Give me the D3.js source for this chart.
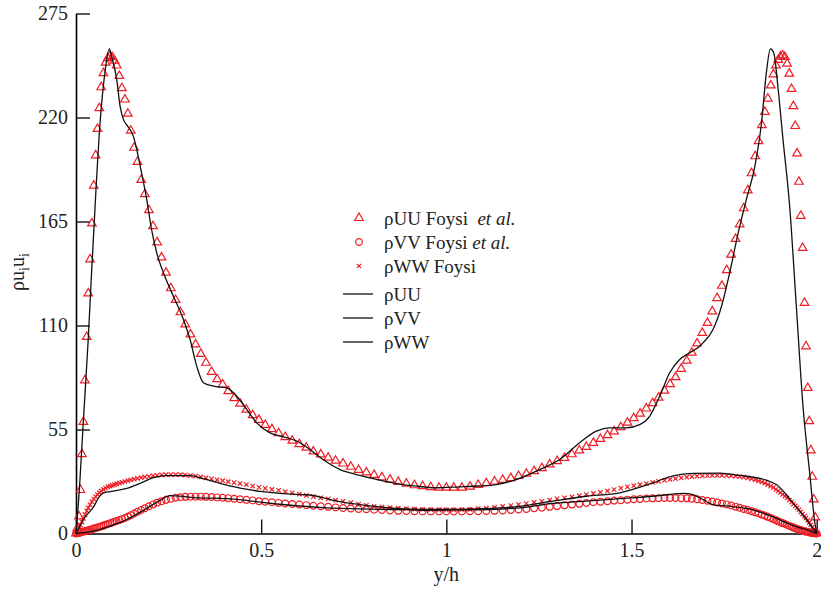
<!DOCTYPE html>
<html>
<head>
<meta charset="utf-8">
<script src="https://cdn.jsdelivr.net/npm/d3@7"></script>
<style>
  html, body { margin: 0; padding: 0; background: #fff; }
  svg { display: block; font-family: "Liberation Serif", "Times New Roman", serif; }
</style>
</head>
<body>
<svg id="chart" width="821" height="589"></svg>
<script>
// Wall-normal positions (y/h) of the reference DNS samples
const gridX = [
  0, 0.004, 0.008, 0.012, 0.016, 0.020, 0.024, 0.029, 0.033, 0.038,
  0.043, 0.048, 0.053, 0.058, 0.063, 0.068, 0.074, 0.080, 0.086, 0.092,
  0.098, 0.104, 0.110, 0.117, 0.124, 0.132, 0.140, 0.148, 0.157, 0.166,
  0.176, 0.186, 0.197, 0.208, 0.219, 0.231, 0.243, 0.256, 0.269, 0.282,
  0.295, 0.309, 0.323, 0.337, 0.351, 0.366, 0.381, 0.396, 0.411, 0.427,
  0.443, 0.460, 0.477, 0.494, 0.511, 0.529, 0.547, 0.565, 0.584, 0.603,
  0.622, 0.641, 0.661, 0.681, 0.701, 0.721, 0.742, 0.763, 0.784, 0.805,
  0.826, 0.848, 0.870, 0.892, 0.914, 0.936, 0.958, 0.980, 1.000, 1.020,
  1.042, 1.064, 1.086, 1.108, 1.130, 1.152, 1.174, 1.195, 1.216, 1.237,
  1.258, 1.279, 1.299, 1.319, 1.339, 1.359, 1.378, 1.397, 1.416, 1.435,
  1.453, 1.471, 1.489, 1.506, 1.523, 1.540, 1.557, 1.573, 1.589, 1.604,
  1.619, 1.634, 1.649, 1.663, 1.677, 1.691, 1.705, 1.718, 1.731, 1.744,
  1.757, 1.769, 1.781, 1.792, 1.803, 1.814, 1.824, 1.834, 1.843, 1.852,
  1.860, 1.868, 1.876, 1.883, 1.890, 1.896, 1.902, 1.908, 1.914, 1.920,
  1.926, 1.932, 1.937, 1.942, 1.947, 1.952, 1.957, 1.962, 1.967, 1.971,
  1.976, 1.980, 1.984, 1.988, 1.992, 1.996, 2.000
];

// Foysi et al. stresses at gridX
const uuFoysi = [
  0, 3, 9, 23, 42, 59, 81, 104, 127, 145,
  164, 184, 200, 214, 225, 236, 243.5, 249, 251.4, 252.6,
  251.9, 250, 247.5, 242, 235.5, 229.5, 222, 213, 204, 196.5,
  187, 179.5, 171, 162.5, 154, 146, 138, 129.7, 123.5, 117,
  110.6, 105.3, 100, 95, 90.3, 85.5, 81.6, 78.8, 75.3, 71.6,
  68.7, 65.5, 62.6, 60.1, 57.4, 55.2, 53, 51, 49.1, 47.3,
  45.4, 43.4, 41.8, 40.1, 38.5, 37, 35.3, 33.6, 32.3, 31,
  29.7, 28.5, 27.3, 26.4, 25.5, 25, 24.5, 24.2, 24.2, 24.2,
  24.2, 24.8, 25.7, 26.6, 27.5, 28.4, 29.3, 30.4, 31.6, 33,
  34.6, 36.5, 38.3, 40, 41.9, 43.9, 45.8, 47.9, 50, 52,
  54, 56.2, 58.6, 61, 63.4, 66.1, 68.9, 71.9, 75.5, 79,
  82.7, 87.1, 91.4, 95.6, 100.5, 106.1, 111.4, 117.5, 124.5, 131,
  139.3, 147.5, 155.8, 163.5, 172, 181.5, 190.5, 199.5, 207.5, 216,
  223, 230, 237, 242.8, 247.6, 250.5, 252.2, 252.8, 252, 248.5,
  243.2, 235.1, 226, 215.5, 201, 186, 168, 151, 122, 99,
  77, 59.4, 44, 30, 18, 8.5, 0
];

const vvFoysi = [
  0, 0.2, 0.4, 0.6, 0.8, 1.0, 1.2, 1.5, 1.7, 2.0,
  2.3, 2.6, 2.9, 3.2, 3.5, 3.8, 4.2, 4.6, 5.0, 5.4,
  5.8, 6.2, 6.6, 7.1, 7.6, 8.2, 8.9, 9.7, 10.6, 11.5,
  12.4, 13.4, 14.4, 15.4, 16.3, 17.1, 17.8, 18.4, 18.9, 19.2,
  19.4, 19.5, 19.5, 19.5, 19.4, 19.3, 19.1, 18.9, 18.7, 18.4,
  18.1, 17.8, 17.5, 17.1, 16.8, 16.5, 16.2, 15.9, 15.6, 15.3,
  15.0, 14.7, 14.4, 14.1, 13.8, 13.5, 13.2, 13.0, 12.8, 12.6,
  12.4, 12.2, 12.0, 11.9, 11.8, 11.7, 11.7, 11.7, 11.7, 11.7,
  11.7, 11.8, 11.8, 11.9, 12.0, 12.2, 12.4, 12.7, 13.0, 13.3,
  13.7, 14.1, 14.5, 14.9, 15.3, 15.7, 16.1, 16.5, 16.8, 17.1,
  17.4, 17.6, 17.9, 18.1, 18.3, 18.5, 18.6, 18.7, 18.8, 18.8,
  18.8, 18.7, 18.6, 18.4, 18.1, 17.7, 17.3, 16.9, 16.4, 15.9,
  15.4, 14.8, 14.2, 13.6, 13.0, 12.4, 11.8, 11.2, 10.6, 10.0,
  9.4, 8.8, 8.2, 7.6, 7.0, 6.5, 6.0, 5.5, 5.0, 4.5,
  4.0, 3.6, 3.2, 2.8, 2.4, 2.1, 1.8, 1.5, 1.2, 1.0,
  0.8, 0.6, 0.4, 0.3, 0.2, 0.1, 0
];

const wwFoysi = [
  0, 1.5, 3, 4.5, 6.2, 8, 10, 12, 13.5, 15.2,
  16.8, 18.2, 19.5, 20.6, 21.6, 22.5, 23.3, 24, 24.6, 25.1,
  25.5, 25.9, 26.3, 26.7, 27.1, 27.5, 27.9, 28.3, 28.7, 29.1,
  29.5, 29.9, 30.2, 30.5, 30.8, 31, 31.1, 31.2, 31.2, 31.1,
  30.9, 30.6, 30.3, 29.9, 29.4, 28.9, 28.4, 27.9, 27.4, 26.9,
  26.4, 25.8, 25.1, 24.4, 23.9, 23.3, 22.8, 22.2, 21.5, 20.8,
  20.1, 19.5, 18.9, 18.3, 17.6, 17.0, 16.3, 15.6, 14.9, 14.4,
  14.0, 13.7, 13.4, 13.1, 12.9, 12.7, 12.6, 12.5, 12.5, 12.5,
  12.6, 12.8, 13.1, 13.4, 13.8, 14.3, 14.8, 15.3, 15.8, 16.4,
  17.0, 17.7, 18.3, 18.9, 19.4, 20.0, 20.6, 21.2, 21.8, 22.5,
  23.2, 24.0, 24.7, 25.3, 25.8, 26.4, 27.0, 27.6, 28.1, 28.6,
  29.0, 29.4, 29.8, 30.1, 30.3, 30.5, 30.6, 30.7, 30.7, 30.7,
  30.6, 30.5, 30.3, 30.1, 29.8, 29.4, 28.9, 28.4, 27.8, 27.2,
  26.6, 25.9, 25.1, 24.3, 23.4, 22.5, 21.6, 20.7, 19.8, 18.8,
  17.7, 16.6, 15.6, 14.6, 13.5, 12.5, 11.4, 10.3, 9.2, 8.2,
  7.0, 5.8, 4.6, 3.4, 2.2, 1.1, 0
];

// Present simulation profiles
const uuLineX = [0, 0.009, 0.020, 0.033, 0.042, 0.054, 0.065, 0.078, 0.090, 0.096,
  0.110, 0.119, 0.128, 0.141, 0.155, 0.164, 0.177, 0.191, 0.204, 0.218,
  0.236, 0.263, 0.290, 0.308, 0.326, 0.344, 0.371, 0.407, 0.434, 0.461,
  0.488, 0.524, 0.560, 0.605, 0.632, 0.667, 0.713, 0.758, 0.812, 0.866,
  0.920, 0.974, 1.036, 1.072, 1.135, 1.190, 1.252, 1.306, 1.360, 1.405,
  1.441, 1.486, 1.522, 1.549, 1.576, 1.603, 1.630, 1.657, 1.684, 1.693,
  1.720, 1.743, 1.765, 1.788, 1.810, 1.833, 1.851, 1.864, 1.875, 1.884,
  1.896, 1.909, 1.927, 1.945, 1.963, 1.981, 1.995, 2.0];
const uuLineV = [0, 23, 60, 102.6, 137.9, 182, 217.2, 243.6, 256.3, 252.4,
  240, 226, 219, 215, 210, 203, 190.7, 176.6, 160.8, 148.4,
  137.9, 125.5, 113.2, 102.6, 88.5, 79.7, 77.9, 77, 72.6, 65.6,
  58.5, 53.2, 51.1, 48, 44.4, 39.1, 33.8, 31.2, 28.6, 26.4,
  25, 24.2, 24.7, 25, 25.9, 28.6, 33.8, 39.1, 48, 54.1,
  55.9, 55.9, 57.6, 62, 72.6, 85, 92, 95.6, 99, 100.8,
  107.9, 120.2, 137.9, 159, 176.6, 194.2, 217.2, 243.6, 256.3, 254.2,
  234.8, 208.4, 173.1, 120.2, 67.3, 32.1, 5.7, 0];

const vvLineX = [0, 0.047, 0.092, 0.137, 0.182, 0.227, 0.254, 0.281, 0.317, 0.407,
  0.460, 0.497, 0.587, 0.677, 0.767, 0.856, 1.010, 1.108, 1.198, 1.287,
  1.378, 1.468, 1.558, 1.639, 1.666, 1.684, 1.720, 1.774, 1.828, 1.882,
  1.936, 1.972, 2.0];
const vvLineV = [0, 1.2, 3.9, 7.4, 12.2, 17.5, 20, 19.8, 19, 18.4,
  17.5, 16.6, 14.8, 13.6, 13, 12.7, 12.7, 12.7, 13.6, 15.9,
  17.1, 18.4, 19.7, 21.2, 20.6, 18.9, 15.3, 14.2, 12.5, 8.8,
  4.2, 2, 0];

const wwLineX = [0, 0.020, 0.047, 0.065, 0.074, 0.092, 0.137, 0.173, 0.209, 0.245,
  0.308, 0.344, 0.389, 0.443, 0.497, 0.551, 0.605, 0.640, 0.677, 0.720,
  0.767, 0.820, 0.883, 0.947, 1.018, 1.108, 1.198, 1.287, 1.378, 1.468,
  1.558, 1.612, 1.666, 1.738, 1.792, 1.864, 1.891, 1.936, 1.972, 2.0];
const wwLineV = [0, 7.4, 14, 20, 21.5, 22.2, 23.8, 26.5, 29.5, 30.6,
  30.6, 29, 26.5, 24, 22.3, 21.2, 20.6, 20.1, 18.4, 16.6,
  15.3, 14.1, 13, 12.3, 12.5, 13.1, 14.4, 17.1, 19.7, 21.5,
  26.8, 30.5, 31.8, 31.9, 30.7, 28.2, 25.9, 16.2, 7.4, 0];

const xTicks = [0, 0.5, 1, 1.5, 2];
const xMinorTicks = [0.25, 0.75, 1.25, 1.75];
const yTicks = [0, 55, 110, 165, 220, 275];
const yMinorTicks = [27.5, 82.5, 137.5, 192.5, 247.5];

const RED = "#ee1d25";
const FONT = "'Liberation Serif', 'Times New Roman', serif";
const svg = d3.select("#chart");

const x = d3.scaleLinear().domain([0, 2]).range([76, 816.7]);
const y = d3.scaleLinear().domain([0, 275]).range([533.5, 13.5]);

// Axes: inward major and minor ticks
const fmt = d => String(d);
const gx = svg.append("g").attr("transform", `translate(0,${y(0)})`);
gx.call(d3.axisBottom(x).tickValues(xMinorTicks).tickSize(-7).tickSizeOuter(0).tickFormat(""));
gx.call(d3.axisBottom(x).tickValues(xTicks).tickSize(-14).tickSizeOuter(0).tickPadding(9).tickFormat(fmt));
const gy = svg.append("g").attr("transform", `translate(${x(0)},0)`);
gy.call(d3.axisLeft(y).tickValues(yMinorTicks).tickSize(-7).tickSizeOuter(0).tickFormat(""));
gy.call(d3.axisLeft(y).tickValues(yTicks).tickSize(-14).tickSizeOuter(0).tickPadding(8).tickFormat(fmt));

svg.selectAll("g").attr("font-family", FONT);
svg.selectAll(".domain").attr("stroke", "#000").attr("stroke-width", 1.6);
svg.selectAll(".tick line").attr("stroke", "#000").attr("stroke-width", 1.3);
svg.selectAll(".tick text").attr("font-family", FONT)
   .attr("font-size", 20).attr("fill", "#222");

// Axis titles
svg.append("text").attr("x", x(1)).attr("y", 581).attr("text-anchor", "middle")
  .attr("font-family", FONT).attr("font-size", 20).attr("fill", "#222").text("y/h");
const yl = svg.append("text").attr("transform", "translate(24,272) rotate(-90)")
  .attr("text-anchor", "middle").attr("font-family", FONT).attr("font-size", 20).attr("fill", "#222");
yl.append("tspan").text("ρu");
yl.append("tspan").attr("font-size", 14).attr("dy", 5).text("i");
yl.append("tspan").attr("dy", -5).text("u");
yl.append("tspan").attr("font-size", 14).attr("dy", 5).text("i");

// Marker shapes
const triPath = d3.symbol(d3.symbolTriangle, 32)();
const circPath = d3.symbol(d3.symbolCircle, 36)();
const crossPath = "M-2.2,-2.2L2.2,2.2M-2.2,2.2L2.2,-2.2";

const plot = svg.append("g");
const line = d3.line().x(d => x(d[0])).y(d => y(d[1])).curve(d3.curveMonotoneX);

function drawMarkers(values, path, cls) {
  plot.append("g").attr("class", cls).selectAll("path")
    .data(gridX.map((gx, i) => [gx, values[i]]))
    .join("path")
    .attr("transform", d => `translate(${x(d[0])},${y(d[1])})`)
    .attr("d", path)
    .attr("fill", "none").attr("stroke", RED).attr("stroke-width", 1.2);
}
drawMarkers(vvFoysi, circPath, "vv-foysi");
drawMarkers(wwFoysi, crossPath, "ww-foysi");
drawMarkers(uuFoysi, triPath, "uu-foysi");

function drawLine(xs, vs) {
  plot.append("path").datum(xs.map((v, i) => [v, vs[i]]))
    .attr("d", line).attr("fill", "none").attr("stroke", "#111").attr("stroke-width", 1.3);
}
drawLine(uuLineX, uuLineV);
drawLine(vvLineX, vvLineV);
drawLine(wwLineX, wwLineV);

// Legend
const legendRows = [
  { kind: "marker", path: triPath, y: 218, parts: [["ρUU Foysi  ", false], ["et al.", true]] },
  { kind: "marker", path: circPath, y: 242, parts: [["ρVV Foysi ", false], ["et al.", true]] },
  { kind: "marker", path: crossPath, y: 266, parts: [["ρWW Foysi", false]] },
  { kind: "line", y: 294, parts: [["ρUU", false]] },
  { kind: "line", y: 318, parts: [["ρVV", false]] },
  { kind: "line", y: 342, parts: [["ρWW", false]] }
];
const lg = svg.append("g");
legendRows.forEach(r => {
  if (r.kind === "marker") {
    lg.append("path").attr("d", r.path).attr("transform", `translate(359,${r.y})`)
      .attr("fill", "none").attr("stroke", RED).attr("stroke-width", 1.2);
  } else {
    lg.append("line").attr("x1", 343).attr("x2", 373).attr("y1", r.y).attr("y2", r.y)
      .attr("stroke", "#111").attr("stroke-width", 1.3);
  }
  const t = lg.append("text").attr("x", 384).attr("y", r.y + 6.5)
    .attr("font-family", FONT).attr("font-size", 19).attr("fill", "#222")
    .attr("xml:space", "preserve");
  r.parts.forEach(p => {
    t.append("tspan").attr("font-style", p[1] ? "italic" : "normal").text(p[0]);
  });
});
</script>
</body>
</html>
